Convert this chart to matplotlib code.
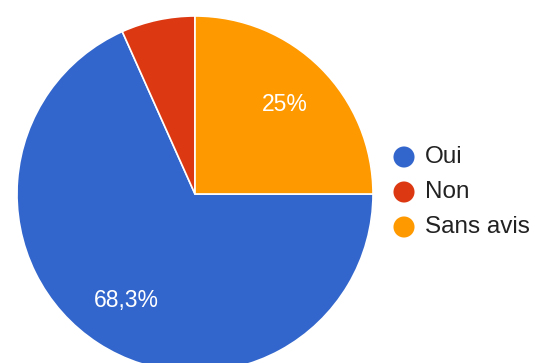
import matplotlib.pyplot as plt

labels = ["Oui", "Non", "Sans avis"]
values = [68.3, 6.7, 25]
colors = ["#3366cc", "#dc3912", "#ff9900"]

W, H = 545, 363
fig = plt.figure(figsize=(W / 100, H / 100), dpi=100)
plt.rcParams['font.family'] = ['Liberation Sans', 'DejaVu Sans']

# pie centre and radius in pixels
cx, cy, r = 195, 194, 178
ax = fig.add_axes([(cx - r) / W, (H - cy - r) / H, 2 * r / W, 2 * r / H])


def fmt(pct):
    if pct < 10:
        return ""
    s = f"{pct:.1f}"
    if s.endswith(".0"):
        s = s[:-2]
    return s.replace(".", ",") + "%"


wedges, texts, autotexts = ax.pie(values, colors=colors, startangle=0, counterclock=False,
                                  autopct=fmt, pctdistance=0.71,
                                  wedgeprops=dict(edgecolor="white", linewidth=1.2),
                                  textprops=dict(color="white", fontsize=16.5))
ax.set_xlim(-1, 1)
ax.set_ylim(-1, 1)
ax.set_aspect("equal")

# legend drawn by hand
lax = fig.add_axes([0, 0, 1, 1])
lax.set_xlim(0, W)
lax.set_ylim(H, 0)
lax.axis("off")
ys = [157, 192, 227]
for lab, col, y in zip(labels, colors, ys):
    lax.scatter([404], [y], s=230, color=col, edgecolors="none")
    lax.text(425, y, lab, fontsize=17.5, color="#222222", va="center", ha="left")

fig.savefig("out.png", dpi=100)
